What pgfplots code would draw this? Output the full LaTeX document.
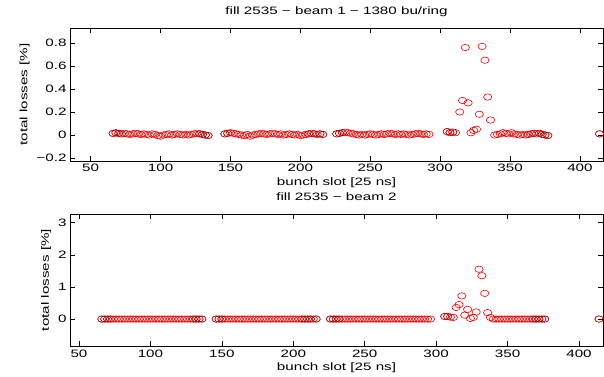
\documentclass[border=0pt]{standalone}
\usepackage{fontspec}
\setmainfont{Liberation Sans}[FakeStretch=1.42]
\usepackage{pgfplots}
\pgfplotsset{compat=1.18}
\definecolor{mred}{rgb}{1,0,0}
\definecolor{dred}{RGB}{140,20,20}
\pgfplotsset{
  mstyle/.style={
    scale only axis, width=533bp, height=133bp,
    tick align=inside, major tick length=5bp,
    axis line style={line width=0.6bp, black},
    every tick/.style={black, line width=0.6bp},
    font=\fontsize{10.7bp}{12.5bp}\selectfont,
    ticklabel style={font=\fontsize{10.7bp}{12.5bp}\selectfont},
    title style={anchor=base, yshift=8bp},
    ylabel={total losses [\%]}, xlabel={bunch slot [25 ns]},
    xlabel style={yshift=1bp},
    xtick={50,100,150,200,250,300,350,400},
    xticklabels={50,100,150,200,250,300,350,400},
  },
  redo/.style={only marks, mark=o, mark size=3.2bp, mark options={xscale=1.3, line width=0.6bp, mred}},
  darko/.style={only marks, mark=o, mark size=3.2bp, mark options={xscale=1.3, line width=0.6bp, dred, opacity=0.7}},
}
\begin{document}
\begin{tikzpicture}[x=1bp,y=1bp]
\path[use as bounding box] (0,0) rectangle (604,-376);
\begin{axis}[mstyle, at={(70bp,-28bp)}, anchor=north west,
  xmin=35.2, xmax=416.5, ymin=-0.226, ymax=0.93,
  ytick={-0.2,0,0.2,0.4,0.6,0.8}, yticklabels={−0.2,0,0.2,0.4,0.6,0.8},
  title={fill 2535 − beam 1 − 1380 bu/ring}]
\addplot[redo] coordinates {
(66,.015)(68,.02)(70,.015)(72,.01)(74,.015)(76,.01)(78,.005)(80,.01)(82,.015)(84,.01)(86,.005)(88,.01)(90,.005)(92,0)(94,.01)(96,.005)(98,-.005)(100,-.01)(102,0)(104,.005)(106,.01)(108,0)(110,.005)(112,.01)(114,.005)(116,0)(118,.005)(120,0)(122,.005)(124,.01)(126,.015)(128,.01)(130,.005)(132,0)(134,-.005)
(146,.01)(148,.015)(150,.02)(152,.015)(154,.01)(156,.005)(158,0)(160,-.005)(162,.005)(164,-.01)(166,0)(168,.005)(170,.01)(172,.015)(174,.01)(176,.005)(178,.01)(180,.015)(182,.01)(184,.005)(186,.01)(188,0)(190,.005)(192,.01)(194,.005)(196,0)(198,.005)(200,-.005)(202,0)(204,.005)(206,.01)(208,.015)(210,.01)(212,.005)(214,.01)(216,.005)
(226,.01)(228,.015)(230,.02)(232,.025)(234,.02)(236,.015)(238,.01)(240,.005)(242,0)(244,.005)(246,0)(248,.005)(250,.01)(252,.005)(254,0)(256,.005)(258,.01)(260,.005)(262,.01)(264,.015)(266,.01)(268,.005)(270,.01)(272,.005)(274,.01)(276,.005)(278,0)(280,.005)(282,.01)(284,.015)(286,.01)(288,.005)(290,.01)(292,.005)
(305,.03)(307,.02)(309,.025)(311,.02)
(314,.20)(316,.30)(318,.76)(320,.28)(322,.02)(324,.04)(326,.05)(328,.18)(330,.77)(332,.65)(334,.33)(336,.13)
(339,0)(341,.005)(343,.01)(345,.02)(347,.015)(349,.01)(351,.02)(353,.01)(355,.005)(357,0)(359,.005)(361,0)(363,.005)(365,.01)(367,.015)(369,.01)(371,.015)(373,.005)(375,0)(377,-.005)
(414,.01)};
\addplot[darko] coordinates {
(66,.012)(68,.018)(70,.014)(72,.01)(128,.01)(130,.006)(132,0)(134,-.004)
(146,.01)(148,.014)(206,.01)(210,.01)(214,.01)(216,.006)
(226,.01)(228,.014)(230,.02)(305,.03)(307,.022)(309,.025)
(363,.005)(367,.014)(371,.015)(373,.006)(375,0)(377,-.004)(414,.01)};
\end{axis}
\begin{axis}[mstyle, at={(70bp,-214bp)}, anchor=north west, height=132bp,
  xmin=43.7, xmax=416.8, ymin=-0.84, ymax=3.27,
  ytick={0,1,2,3}, yticklabels={0,1,2,3},
  title={fill 2535 − beam 2}]
\addplot[redo] coordinates {
(66,0)(68,0)(70,0)(72,0)(74,0)(76,0)(78,0)(80,0)(82,0)(84,0)(86,0)(88,0)(90,0)(92,0)(94,0)(96,0)(98,0)(100,0)(102,0)(104,0)(106,0)(108,0)(110,0)(112,0)(114,0)(116,0)(118,0)(120,0)(122,0)(124,0)(126,0)(128,0)(130,0)(132,0)(134,0)(136,0)
(146,0)(148,0)(150,0)(152,0)(154,0)(156,0)(158,0)(160,0)(162,0)(164,0)(166,0)(168,0)(170,0)(172,0)(174,0)(176,0)(178,0)(180,0)(182,0)(184,0)(186,0)(188,0)(190,0)(192,0)(194,0)(196,0)(198,0)(200,0)(202,0)(204,0)(206,0)(208,0)(210,0)(212,0)(214,0)(216,0)
(226,0)(228,0)(230,0)(232,0)(234,0)(236,0)(238,0)(240,0)(242,0)(244,0)(246,0)(248,0)(250,0)(252,0)(254,0)(256,0)(258,0)(260,0)(262,0)(264,0)(266,0)(268,0)(270,0)(272,0)(274,0)(276,0)(278,0)(280,0)(282,0)(284,0)(286,0)(288,0)(290,0)(292,0)(294,0)(296,0)
(306,.08)(308,.08)(310,.06)(312,.05)
(314,.36)(316,.45)(318,.72)(320,.12)(322,.30)(324,.02)(326,.05)(328,.22)(330,1.55)(332,1.35)(334,.80)(336,.20)(338,.05)
(340,0)(342,0)(344,0)(346,0)(348,0)(350,0)(352,0)(354,0)(356,0)(358,0)(360,0)(362,0)(364,0)(366,0)(368,0)(370,0)(372,0)(374,0)(376,0)
(414,0)};
\addplot[darko] coordinates {
(66,0)(68,0)(70,0)(72,0)(130,0)(132,0)(134,0)(136,0)
(146,0)(148,0)(150,0)(206,0)(208,0)(210,0)(212,0)(216,0)
(226,0)(228,0)(230,0)(232,0)(306,.08)(308,.08)
(368,0)(370,0)(372,0)(374,0)(376,0)(414,0)};
\end{axis}
\end{tikzpicture}
\end{document}
